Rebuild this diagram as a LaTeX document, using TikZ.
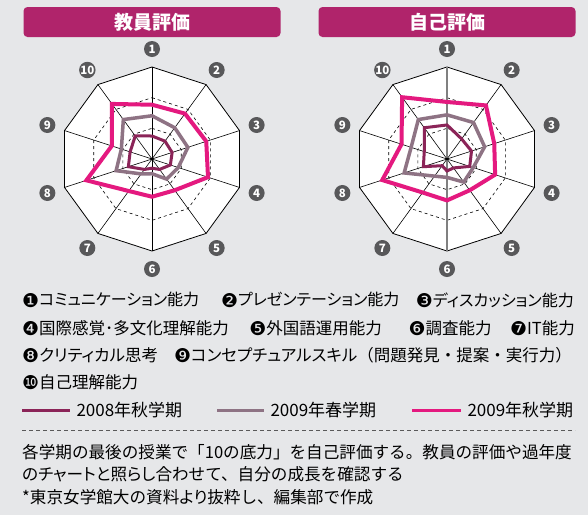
\documentclass[tikz,border=0pt]{standalone}
\usepackage{fontspec}
\setmainfont{Noto Sans CJK JP}
\newfontfamily\propfont[RawFeature=+palt]{Noto Sans CJK JP}
\newfontfamily\dingfont{DejaVu Sans}
\usetikzlibrary{calc,positioning}

\definecolor{paneGray}{HTML}{E6E7E9}
\definecolor{barMagenta}{HTML}{B0246B}
\definecolor{badgeGray}{HTML}{58585A}
\definecolor{fallEight}{HTML}{8B2458}
\definecolor{springNine}{HTML}{8E7384}
\definecolor{fallNine}{HTML}{E4197F}

\newcommand{\dnum}[1]{\raisebox{-1.4pt}{\fontsize{19}{16}\dingfont #1}}

\tikzset{
	titlebar/.style = {fill=barMagenta, rounded corners=4pt, minimum height=30pt, inner sep=0pt,
		text=white, font=\fontsize{19}{19}\selectfont\bfseries},
	badge/.style = {circle, fill=badgeGray, text=white, minimum size=16pt, inner sep=0pt,
		font=\fontsize{11.5}{11.5}\selectfont\bfseries},
	spoke/.style = {line width=0.6pt},
	guide/.style = {line width=0.6pt, dash pattern=on 3pt off 3pt},
	rim/.style = {line width=0.8pt},
	fallold/.style = {draw=fallEight, line width=3pt},
	springnew/.style = {draw=springNine, line width=3.5pt},
	fallnew/.style = {draw=fallNine, line width=4pt},
	abil/.style = {inner sep=0pt, font=\fontsize{16.5}{16.5}\selectfont},
	abilnarrow/.style = {abil, font=\fontsize{16}{16}\selectfont\propfont},
	termlabel/.style = {anchor=west, inner sep=0pt, xshift=5pt, font=\fontsize{17}{17}\selectfont},
	note/.style = {anchor=west, inner sep=0pt, font=\fontsize{16.6}{16.6}\selectfont},
}

% one rating polygon: style, hub, value on spoke 1, values on spokes 2..10
\newcommand{\scoreline}[4]{%
	\draw[#1, shift={(#2)}] (90:{#3*92})
		\foreach \v [count=\k] in {#4} { -- ({90-36*\k}:{\v*92}) } -- cycle;}

\begin{document}
\begin{tikzpicture}[x=1pt, y=1pt]
		\fill[paneGray] (0,0) rectangle (588,-515);
		\useasboundingbox (0,0) rectangle (588,-515);
		\foreach \cx/\ttl/\nm in {152/教員評価/teacher, 447/自己評価/self} {
			\node[titlebar, minimum width=257pt] (\nm bar) at (\cx,-22) {\ttl};
			\begin{scope}[shift={(\cx,-159)}]
				\coordinate (\nm hub) at (0,0);
				\fill[white] (90:92) \foreach \k in {1,...,9} { -- ({90-36*\k}:92) } -- cycle;
				\foreach \k in {0,...,9}
					\draw[spoke] (0,0) -- ({90-36*\k}:92);
				\foreach \r in {30.7, 61.3}
					\draw[guide] (90:\r) \foreach \k in {1,...,9} { -- ({90-36*\k}:\r) } -- cycle;
				\draw[rim] (90:92) \foreach \k in {1,...,9} { -- ({90-36*\k}:92) } -- cycle;
				\fill (0,0) circle (1.6);
				\foreach \k in {1,...,10}
					\node[badge] (\nm n\k) at ({126-36*\k}:110) {\k};
			\end{scope}
		}
		\draw[gray, line width=1.3pt] ($(selfhub)+(0,92)$) -- ($(selfhub)+(0,-92)$);
		\fill (selfhub) circle (1.6);

		\scoreline{fallold}{teacherhub}{0.25}{0.24, 0.23, 0.21, 0.14, 0.10, 0.14, 0.27, 0.25, 0.31}
		\scoreline{springnew}{teacherhub}{0.47}{0.42, 0.41, 0.30, 0.27, 0.16, 0.20, 0.41, 0.35, 0.53}
		\scoreline{fallnew}{teacherhub}{0.59}{0.61, 0.62, 0.64, 0.42, 0.41, 0.43, 0.75, 0.46, 0.74}

		\scoreline{fallold}{selfhub}{0.37}{0.27, 0.28, 0.26, 0.12, 0.13, 0.09, 0.27, 0.26, 0.42}
		\scoreline{springnew}{selfhub}{0.48}{0.49, 0.43, 0.30, 0.31, 0.20, 0.23, 0.49, 0.41, 0.53}
		\scoreline{fallnew}{selfhub}{0.62}{0.72, 0.54, 0.55, 0.42, 0.45, 0.45, 0.74, 0.52, 0.83}

		% list of the ten abilities
		\node[abilnarrow, anchor=west] (ab1) at (22,-300) {\dnum{❶}コミュニケーション能力};
		\node[abilnarrow, anchor=east] (ab3) at (574,-300) {\dnum{❸}ディスカッション能力};
		\node[abilnarrow, left=16pt of ab3] (ab2) {\dnum{❷}プレゼンテーション能力};
		\node[abil, anchor=west] (ab4) at (22,-328) {\dnum{❹}国際感覚･多文化理解能力};
		\node[abil, anchor=east] (ab7) at (575,-328) {\dnum{❼}IT能力};
		\node[abil, left=18pt of ab7] (ab6) {\dnum{❻}調査能力};
		\node[abil, anchor=west, right=20pt of ab4] (ab5) {\dnum{❺}外国語運用能力};
		\node[abilnarrow, font=\fontsize{16.5}{16.5}\selectfont\propfont, anchor=west] (ab8) at (22,-355) {\dnum{❽}クリティカル思考};
		\node[abil, anchor=east] (ab9) at (572,-355) {\dnum{❾}{\propfont コンセプチュアルスキル}（問題発見・提案・実行力）};
		\node[abil, anchor=west] (ab10) at (22,-382) {\dnum{❿}自己理解能力};

		\coordinate (k08) at (22,-410);
		\coordinate (k09s) at (217,-410);
		\coordinate (k09f) at (412,-410);
		\draw[fallold] (k08) -- ++(48,0) node[termlabel] (t08) {2008年秋学期};
		\draw[springnew, line width=3pt] (k09s) -- ++(47,0) node[termlabel] (t09s) {2009年春学期};
		\draw[fallnew, line width=3pt] (k09f) -- ++(49,0) node[termlabel] (t09f) {2009年秋学期};

		\draw[line width=0.8pt, draw=black!65, dash pattern=on 4pt off 3pt] (22,-430) -- (575,-430);

		\node[note] (note1) at (22,-452) {各学期の最後の授業で「10の底力」を自己評価する。教員の評価や過年度};
		\node[note] (note2) at (22,-474.5) {{\propfont のチャートと照らし}合わせて、自分の成長を確認する};
		\node[note] (note3) at (22,-497) {*東京女学館大の資料{\propfont より}抜粋し、編集部で作成};
	\end{tikzpicture}
\end{document}
